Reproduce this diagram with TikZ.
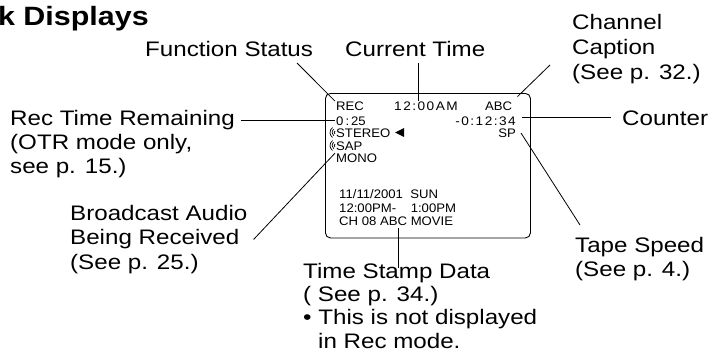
\documentclass[tikz,border=0pt]{standalone}
\usepackage{fontspec}
\setmainfont{Liberation Sans}[FakeStretch=1.15]
\newfontfamily\osdreg{Liberation Sans}[FakeStretch=1.06]
\newfontfamily\osdwide{Liberation Sans}[FakeStretch=1.1,LetterSpace=12]
\newcommand{\lblfont}{\fontsize{21}{24}\selectfont}
\newcommand{\osdfont}{\osdreg\fontsize{12.4}{13}\selectfont}
\begin{document}
\begin{tikzpicture}[x=1pt,y=-1pt,
  lbl/.style={font=\lblfont,inner sep=0,anchor=base west},
  osd/.style={font=\osdfont,inner sep=0,anchor=base west},
  osdr/.style={font=\osdfont,inner sep=0,anchor=base east},
  lead/.style={draw,line width=0.8pt},
  screen/.style={draw,line width=0.9pt,rounded corners=5pt,inner sep=0}]
\useasboundingbox (0,0) rectangle (715,356);

% title
\node[anchor=base east,inner sep=0,font=\bfseries\fontsize{26.5}{30}\selectfont] (title) at (149,25) {k Displays};

% screen
\node[screen,anchor=north west,minimum width=205pt,minimum height=144.5pt] (scr) at (325,93) {};

% on-screen texts
\node[osd] (rec) at (336,110) {REC};
\node[osd,font=\osdfont\osdwide] (clk) at (394,110) {12:00AM};
\node[osd] (abc) at (485,110) {ABC};
\node[osd] (otr) at (336,125) {0\kern2pt:\kern2pt25};
\node[osdr,font=\osdfont\osdwide] (cnt) at (516,125) {-0:12:34};
\node[osd] (ste) at (336,137) {STEREO};
\node[osd] (sap) at (336,150) {SAP};
\node[osd] (mono) at (336,162) {MONO};
\node[osdr] (sp) at (516,137) {SP};
\node[osd] (d1) at (339,198) {11/11/2001\ \ SUN};
\node[osd] (d2) at (339,212.5) {12:00PM-\ \ \ \ 1:00PM};
\node[osd] (d3) at (339,225) {CH 08 ABC MOVIE};

% audio wave icons
\foreach \yy in {132.5,145.5}{
  \foreach \r in {1.8,3.9,6}{
    \draw[line width=0.7pt] ([shift={(125:\r pt)}]336,\yy) arc[start angle=125,end angle=235,radius=\r pt];
  }
}
% triangle marker
\fill (395,132.5) -- (404,128) -- (404,137) -- cycle;

% labels
\node[lbl] (fs1) at (145,56) {Function Status};
\node[lbl] (ct1) at (345,56) {Current Time};
\node[lbl] (cc1) at (572,29) {Channel};
\node[lbl] (cc2) at (572,54.5) {Caption};
\node[lbl] (cc3) at (572,79.5) {(See p. 32.)};
\node[lbl] (rt1) at (10,125) {Rec Time Remaining};
\node[lbl] (rt2) at (10,149) {(OTR mode only,};
\node[lbl] (rt3) at (10,173) {see p. 15.)};
\node[lbl] (co1) at (622,125) {Counter};
\node[lbl] (ba1) at (70,220) {Broadcast Audio};
\node[lbl] (ba2) at (70,244.5) {Being Received};
\node[lbl] (ba3) at (70,269) {(See p. 25.)};
\node[lbl] (ts1) at (575,252) {Tape Speed};
\node[lbl] (ts2) at (575,276) {(See p. 4.)};
\node[lbl] (td1) at (303,278) {Time Stamp Data};
\node[lbl] (td2) at (303,301) {( See p. 34.)};
\node[lbl] (td3) at (303,324) {\textbullet\ This is not displayed};
\node[lbl] (td4) at (318,348) {in Rec mode.};

% leaders
\draw[lead] ([shift={(152,7)}]fs1.base west) -- ([shift={(-1,0)}]rec.north west);
\coordinate (ctA) at ([shift={(73,7)}]ct1.base west);
\draw[lead] (ctA) -- (ctA |- clk.north);
\draw[lead] ([shift={(-22,-14.5)}]cc3.base west) -- ([shift={(5,-4.5)}]abc.north east);
\draw[lead] ([shift={(6,-5)}]rt1.base east) -- ([shift={(-1,-5)}]otr.base west);
\draw[lead] ([shift={(6,-8)}]cnt.base east) -- ([shift={(-11,-8)}]co1.base west);
\draw[lead] ([shift={(5,-4)}]sp.base east) -- ([shift={(5,-27)}]ts1.base west);
\draw[lead] ([shift={(14,-5)}]ba2.base east) -- ([shift={(-1,0)}]mono.north west);
\coordinate (tdA) at ([shift={(59,3)}]d3.base west);
\draw[lead] (tdA) -- ([yshift=-5pt]tdA |- td1.north);
\end{tikzpicture}
\end{document}
